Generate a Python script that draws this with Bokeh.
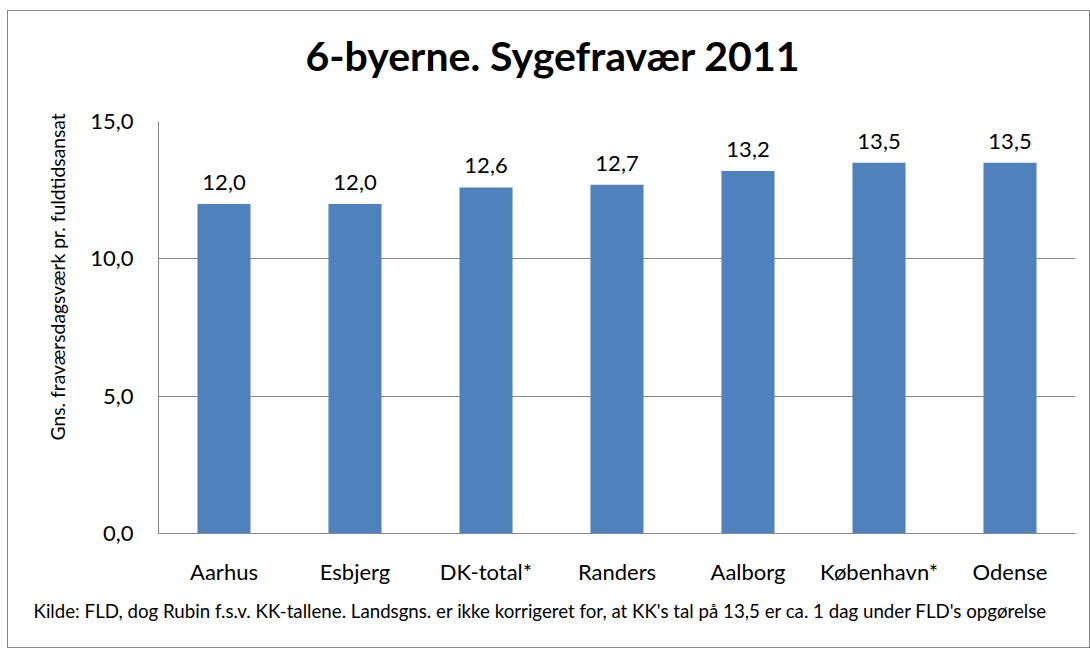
from bokeh.plotting import figure
from bokeh.models import Range1d, FixedTicker, Title, ColumnDataSource
from bokeh.core.properties import value
from bokeh.embed import file_html
from bokeh.resources import INLINE

categories = ["Aarhus", "Esbjerg", "DK-total*", "Randers", "Aalborg", "København*", "Odense"]
values = [12.0, 12.0, 12.6, 12.7, 13.2, 13.5, 13.5]
y_ticks = [0, 5, 10, 15]
y_tick_labels = ["0,0", "5,0", "10,0", "15,0"]
title_text = "6-byerne. Sygefravær 2011"
y_label_text = "Gns. fraværsdagsværk pr. fuldtidsansat"
note_text = "Kilde: FLD, dog Rubin f.s.v. KK-tallene.  Landsgns. er ikke korrigeret for, at KK's tal på 13,5 er ca. 1 dag under FLD's opgørelse"

FONT = "Lato"
GRAY = "#868686"

src = ColumnDataSource(dict(
    cat=categories,
    val=values,
    lab=[f"{v:.1f}".replace(".", ",") for v in values],
))

p = figure(
    x_range=categories, y_range=Range1d(0, 15),
    width=1083, height=638,
    min_border_left=150, min_border_top=110, min_border_right=16, min_border_bottom=116,
    output_backend="svg", toolbar_location=None,
    styles={"border": "1px solid " + GRAY, "margin-left": "7px", "margin-top": "10px"},
)
p.outline_line_color = None
p.background_fill_color = "white"
p.border_fill_color = "white"

p.vbar(x="cat", top="val", width=0.405, source=src, fill_color="#4F81BD", line_color=None)
p.text(x="cat", y="val", text="lab", source=src, y_offset=-14,
       text_align="center", text_baseline="bottom",
       text_font=value(FONT), text_font_size="22px", text_color="black")

# axes
p.yaxis.ticker = FixedTicker(ticks=y_ticks)
p.yaxis.major_label_overrides = {t: l for t, l in zip(y_ticks, y_tick_labels)}
p.yaxis.major_tick_out = 0
p.yaxis.major_tick_in = 0
p.yaxis.minor_tick_out = 0
p.yaxis.minor_tick_in = 0
p.yaxis.axis_line_color = GRAY
p.yaxis.major_label_standoff = 25
p.yaxis.major_label_text_font = FONT
p.yaxis.major_label_text_font_size = "22px"
p.yaxis.major_label_text_color = "black"

p.xaxis.major_tick_out = 0
p.xaxis.major_tick_in = 0
p.xaxis.axis_line_color = GRAY
p.xaxis.major_label_standoff = 24
p.xaxis.major_label_text_font = FONT
p.xaxis.major_label_text_font_size = "22px"
p.xaxis.major_label_text_color = "black"

p.xgrid.grid_line_color = None
p.ygrid.grid_line_color = GRAY
p.ygrid.grid_line_width = 1

# spacer between the frame and the chart title
p.add_layout(Title(text=" ", text_font=FONT, text_font_size="10px", standoff=12), "above")
# titles / notes in side panels
p.add_layout(Title(text=title_text, align="left", offset=147, standoff=32,
                   text_font=FONT, text_font_style="bold", text_font_size="41px",
                   text_color="black"), "above")
p.add_layout(Title(text=y_label_text, align="left", offset=93, standoff=37,
                   text_font=FONT, text_font_style="normal", text_font_size="19.3px",
                   text_color="black"), "left")
p.add_layout(Title(text=note_text, align="left", offset=-125, standoff=20,
                   text_font=FONT, text_font_style="normal", text_font_size="18.7px",
                   text_color="black"), "below")

open("out.html", "w").write(file_html(p, INLINE))
